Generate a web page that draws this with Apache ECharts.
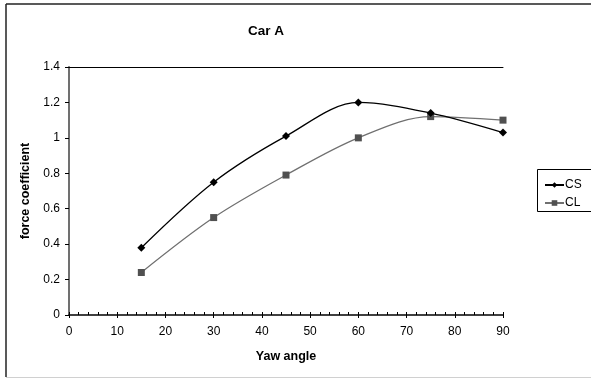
<!DOCTYPE html>
<html>
<head>
<meta charset="utf-8">
<title>Car A</title>
<script src="https://cdn.jsdelivr.net/npm/echarts@6/dist/echarts.min.js"></script>
<style>
  html, body { margin: 0; padding: 0; background: #fff; }
  #chart { width: 591px; height: 378px; }
</style>
</head>
<body>
<div id="chart"></div>
<script>
// Yaw angle (degrees) and measured force coefficients for Car A
const yawAngles = [15, 30, 45, 60, 75, 90];
const csValues = [0.38, 0.75, 1.01, 1.20, 1.14, 1.03];
const clValues = [0.24, 0.55, 0.79, 1.00, 1.12, 1.10];
const xTicks = [0, 10, 20, 30, 40, 50, 60, 70, 80, 90];
const yTicks = [0, 0.2, 0.4, 0.6, 0.8, 1, 1.2, 1.4];

const FONT = 'Liberation Sans, Arial, sans-serif';

function pairs(xs, ys) {
  return xs.map((x, i) => [x, ys[i]]);
}

const chart = echarts.init(document.getElementById('chart'), null, { renderer: 'canvas' });

const grid = { left: 69, top: 67, width: 434, height: 248 };

chart.setOption({
  animation: false,
  backgroundColor: '#fff',
  title: {
    text: 'Car A',
    left: 261, top: 19,
    textAlign: 'center',
    textStyle: { fontFamily: FONT, fontSize: 13.5, fontWeight: 'bold', color: '#000' }
  },
  grid: grid,
  legend: {
    left: 539, top: 174,
    orient: 'vertical',
    itemGap: 6,
    itemWidth: 19, itemHeight: 7,
    textStyle: { fontFamily: FONT, fontSize: 12, color: '#000', padding: [0, 0, 0, -4] },
    data: ['CS', 'CL']
  },
  xAxis: [{
    type: 'value',
    min: xTicks[0], max: xTicks[xTicks.length - 1], interval: 10,
    name: 'Yaw angle',
    nameLocation: 'middle', nameGap: 35,
    nameTextStyle: { fontFamily: FONT, fontSize: 12.5, fontWeight: 'bold', color: '#000' },
    axisLine: { lineStyle: { color: '#000', width: 1.5 } },
    axisTick: { show: true, length: 3, lineStyle: { color: '#000' } },
    axisLabel: { fontFamily: FONT, fontSize: 12, color: '#000', margin: 11 },
    splitLine: { show: false }
  }, {
    // inner tick marks every 2 degrees
    type: 'value', position: 'bottom',
    min: 0, max: 90, interval: 2,
    axisLine: { show: false },
    axisTick: { show: true, inside: true, length: 3, lineStyle: { color: '#000' } },
    axisLabel: { show: false },
    splitLine: { show: false }
  }, {
    // top edge of the plot frame
    type: 'value', position: 'top',
    min: 0, max: 90,
    axisLine: { lineStyle: { color: '#000', width: 1 } },
    axisTick: { show: false }, axisLabel: { show: false }, splitLine: { show: false }
  }],
  yAxis: [{
    type: 'value',
    min: yTicks[0], max: yTicks[yTicks.length - 1], interval: 0.2,
    name: 'force coefficient',
    nameLocation: 'middle', nameGap: 36,
    nameTextStyle: { fontFamily: FONT, fontSize: 12.5, fontWeight: 'bold', color: '#000' },
    axisLine: { show: true, lineStyle: { color: '#000', width: 1.5 } },
    axisTick: { show: true, length: 4, lineStyle: { color: '#000' } },
    axisLabel: { fontFamily: FONT, fontSize: 12, color: '#000', margin: 9 },
    splitLine: { show: false }
  }, {
    // right edge of the plot frame
    type: 'value', position: 'right',
    min: 0, max: 1.4,
    axisLine: { show: true, lineStyle: { color: '#808080', width: 1.5 } },
    axisTick: { show: false }, axisLabel: { show: false }, splitLine: { show: false }
  }],
  series: [{
    name: 'CS',
    type: 'line',
    data: pairs(yawAngles, csValues),
    smooth: 0.33,
    symbol: 'diamond', symbolSize: 8,
    lineStyle: { color: '#000', width: 1.3 },
    itemStyle: { color: '#000' },
    z: 3
  }, {
    name: 'CL',
    type: 'line',
    data: pairs(yawAngles, clValues),
    smooth: 0.33,
    symbol: 'rect', symbolSize: 7,
    lineStyle: { color: '#707070', width: 1.3 },
    itemStyle: { color: '#505050' },
    z: 2
  }],
  graphic: [
    // outer chart frame
    { type: 'line', shape: { x1: 6, y1: 4, x2: 600, y2: 4 }, style: { stroke: '#222', lineWidth: 1.5 }, silent: true },
    { type: 'line', shape: { x1: 6, y1: 4, x2: 6, y2: 377 }, style: { stroke: '#222', lineWidth: 1.5 }, silent: true },
    { type: 'line', shape: { x1: 6, y1: 377.5, x2: 600, y2: 377.5 }, style: { stroke: '#d0d0d0', lineWidth: 1 }, silent: true },
    // legend box
    { type: 'rect', shape: { x: 537.5, y: 169.5, width: 80, height: 42 }, style: { fill: 'none', stroke: '#000', lineWidth: 1 }, z: -1, silent: true }
  ]
});
</script>
</body>
</html>
